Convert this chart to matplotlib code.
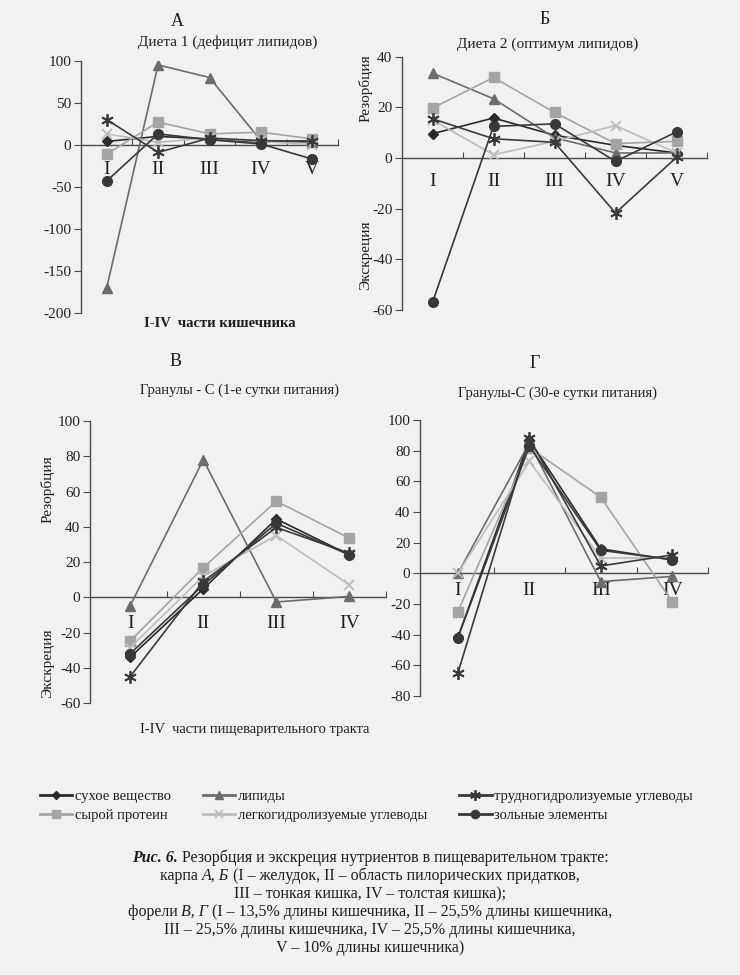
import matplotlib
matplotlib.use("Agg")
import matplotlib.pyplot as plt
from matplotlib.lines import Line2D

plt.rcParams['font.family'] = ['Liberation Serif', 'DejaVu Serif']
plt.rcParams['axes.unicode_minus'] = False

# ---------------- data ----------------
series_names = ["сухое вещество", "липиды", "сырой протеин",
                "легкогидролизуемые углеводы", "трудногидролизуемые углеводы",
                "зольные элементы"]

cats5 = ["I", "II", "III", "IV", "V"]
cats4 = ["I", "II", "III", "IV"]

# Panel А — Диета 1 (дефицит липидов)
a_dry     = [4, 10, 7, 3, 5]
a_lipids  = [-170, 95, 80, 5, 3]
a_protein = [-11, 27, 13, 15, 7]
a_easy    = [13, 3, 8, 4, 0]
a_hard    = [30, -9, 8, 5, 4]
a_ash     = [-43, 13, 6, 1, -17]

# Panel Б — Диета 2 (оптимум липидов)
b_dry     = [9.6, 15.8, 9, 5, 2]
b_lipids  = [33.5, 23.4, 8, 2, 2]
b_protein = [19.7, 31.8, 18, 5.7, 6.6]
b_easy    = [15, 1.3, 6.6, 12.8, 2]
b_hard    = [15.5, 7.6, 6.2, -21.7, 0.3]
b_ash     = [-57, 12.5, 13.5, -1.3, 10.3]

# Panel В — Гранулы-С (1-е сутки питания)
v_dry     = [-34, 4.8, 44.4, 24]
v_lipids  = [-4.8, 78, -2.7, 0.5]
v_protein = [-24.8, 16.8, 54.5, 33.5]
v_easy    = [-28.6, 12, 35, 7]
v_hard    = [-45, 9, 39.6, 25]
v_ash     = [-32, 7, 42, 24]

# Panel Г — Гранулы-С (30-е сутки питания)
g_dry     = [-41.7, 87, 16, 8.7]
g_lipids  = [0, 85, -5.4, -2]
g_protein = [-25, 82, 49.6, -18.5]
g_easy    = [0, 73, 10, 10]
g_hard    = [-65, 88, 4.8, 12]
g_ash     = [-42, 83, 15, 9]

# ---------------- styles ----------------
styles = [
    dict(color='#2a2a2a', marker='D', ms=5),
    dict(color='#6c6c6c', marker='^', ms=7),
    dict(color='#a4a4a4', marker='s', ms=6.5),
    dict(color='#bcbcbc', marker='x', ms=7, mew=1.3),
    dict(color='#3a3a3a', marker=(6, 2, 0), ms=9, mew=1.3),
    dict(color='#383838', marker='o', ms=7),
]

BG = '#f1f1ef'
AX = '#4a4a4a'

fig = plt.figure(figsize=(7.4, 9.75), dpi=100, facecolor=BG)
W, H = 740.0, 975.0


def make_axes(left, right, top, bottom):
    return fig.add_axes([left / W, 1 - bottom / H, (right - left) / W, (bottom - top) / H])


def draw_panel(ax, cats, data, ylim, yticks, xlim, catpad):
    ax.set_facecolor('none')
    x = list(range(len(cats)))
    for vals, st in zip(data, styles):
        ax.plot(x, vals, lw=1.2, color=st['color'], marker=st['marker'],
                ms=st['ms'], mew=st.get('mew', 1.0), mec=st['color'], mfc=st['color'],
                zorder=3)
    ax.set_ylim(*ylim)
    ax.set_xlim(*xlim)
    for s in ('top', 'right'):
        ax.spines[s].set_visible(False)
    ax.spines['bottom'].set_position(('data', 0))
    ax.spines['left'].set_color(AX)
    ax.spines['bottom'].set_color(AX)
    ax.spines['left'].set_linewidth(1.0)
    ax.spines['bottom'].set_linewidth(1.0)
    ax.set_yticks(yticks)
    ax.set_yticklabels([str(t) for t in yticks], fontsize=11, color='#222222')
    ax.tick_params(axis='y', direction='out', length=5, color=AX, pad=2)
    bounds = [i - 0.5 for i in range(1, len(cats) + 1)]
    ax.set_xticks(bounds)
    ax.set_xticklabels([])
    ax.tick_params(axis='x', which='major', direction='in', length=4, color=AX)
    ax.set_xticks(x, minor=True)
    ax.set_xticklabels(cats, minor=True, fontsize=14, color='#222222')
    ax.tick_params(axis='x', which='minor', length=0, pad=catpad)


# Panel А
axA = make_axes(81, 338, 60.7, 313)
draw_panel(axA, cats5, [a_dry, a_lipids, a_protein, a_easy, a_hard, a_ash],
           (-200, 100), [-200, -150, -100, -50, 0, 50, 100], (-0.5, 4.5), 12)

# Panel Б
axB = make_axes(402, 707, 56.7, 310)
draw_panel(axB, cats5, [b_dry, b_lipids, b_protein, b_easy, b_hard, b_ash],
           (-60, 40), [-60, -40, -20, 0, 20, 40], (-0.5, 4.5), 11)

# Panel В
axV = make_axes(90, 386, 421, 703)
draw_panel(axV, cats4, [v_dry, v_lipids, v_protein, v_easy, v_hard, v_ash],
           (-60, 100), [-60, -40, -20, 0, 20, 40, 60, 80, 100], (-0.55, 3.5), 13)

# Panel Г
axG = make_axes(420, 708, 420, 696)
draw_panel(axG, cats4, [g_dry, g_lipids, g_protein, g_easy, g_hard, g_ash],
           (-80, 100), [-80, -60, -40, -20, 0, 20, 40, 60, 80, 100], (-0.53, 3.5), 6)


def ftext(x, y, s, **kw):
    return fig.text(x / W, 1 - y / H, s, **kw)


TC = '#1e1e1e'
# Panel letters and titles
ftext(177, 22, "А", fontsize=13, ha='center', va='center', color=TC)
ftext(228, 42, "Диета 1 (дефицит липидов)", fontsize=11, ha='center', va='center', color=TC)
ftext(545, 20, "Б", fontsize=13, ha='center', va='center', color=TC)
ftext(548, 44, "Диета 2 (оптимум липидов)", fontsize=11, ha='center', va='center', color=TC)
ftext(176, 362, "В", fontsize=13, ha='center', va='center', color=TC)
ftext(240, 390, "Гранулы - С (1-е сутки питания)", fontsize=10.5, ha='center', va='center', color=TC)
ftext(535, 364, "Г", fontsize=13, ha='center', va='center', color=TC)
ftext(557, 393, "Гранулы-С (30-е сутки питания)", fontsize=10.5, ha='center', va='center', color=TC)

# Axis titles
ftext(220, 323, "I-IV  части кишечника", fontsize=10.5, ha='center', va='center',
      color=TC, fontweight='bold')
ftext(255, 730, "I-IV  части пищеварительного тракта", fontsize=10.5, ha='center',
      va='center', color=TC)

# Rotated labels
ftext(366, 88, "Резорбция", fontsize=11, rotation=90, ha='center', va='center', color=TC)
ftext(366, 255, "Экскреция", fontsize=11, rotation=90, ha='center', va='center', color=TC)
ftext(48, 489, "Резорбция", fontsize=11, rotation=90, ha='center', va='center', color=TC)
ftext(48, 663, "Экскреция", fontsize=11, rotation=90, ha='center', va='center', color=TC)

# Legend (row-wise reading order)
handles = []
for st, name in zip(styles, series_names):
    handles.append(Line2D([], [], color=st['color'], lw=2.0, marker=st['marker'],
                          ms=st['ms'] * 0.85, mew=st.get('mew', 1.0),
                          mec=st['color'], mfc=st['color'], label=name))
order = [0, 2, 1, 3, 4, 5]
leg = fig.legend([handles[i] for i in order], [series_names[i] for i in order],
                 ncol=3, loc='center left', bbox_to_anchor=(40 / W, 1 - 806 / H),
                 frameon=False, fontsize=10.5, handlelength=2.2, handletextpad=0.2,
                 columnspacing=2.2, labelspacing=0.35, borderaxespad=0, borderpad=0)
for t in leg.get_texts():
    t.set_color(TC)

# Caption: each line is a row of text pieces (text, style); pieces are laid out
# left-to-right and the whole line is centred.
CAP_FS = 11.5
cap_lines = [
    (858, [("Рис. 6.", 'bi'), (" Резорбция и экскреция нутриентов в пищеварительном тракте:", 'n')]),
    (876, [("карпа ", 'n'), ("А, Б", 'i'), (" (I – желудок, II – область пилорических придатков,", 'n')]),
    (894, [("III – тонкая кишка, IV – толстая кишка);", 'n')]),
    (912, [("форели ", 'n'), ("В, Г", 'i'), (" (I – 13,5% длины кишечника, II – 25,5% длины кишечника,", 'n')]),
    (930, [("III – 25,5% длины кишечника, IV – 25,5% длины кишечника,", 'n')]),
    (948, [("V – 10% длины кишечника)", 'n')]),
]

fig.canvas.draw()
renderer = fig.canvas.get_renderer()
for y, pieces in cap_lines:
    objs = []
    for txt, sty in pieces:
        kw = dict(fontsize=CAP_FS, ha='left', va='center', color=TC)
        if 'b' in sty:
            kw['fontweight'] = 'bold'
        if 'i' in sty:
            kw['fontstyle'] = 'italic'
        objs.append(ftext(0, y, txt, **kw))
    widths = [o.get_window_extent(renderer).width for o in objs]
    # account for trailing/leading spaces via full extents
    total = sum(widths)
    x0 = 370 - total / 2
    for o, w in zip(objs, widths):
        o.set_x(x0 / W)
        x0 += w

fig.savefig("out.png", dpi=100, facecolor=BG)
